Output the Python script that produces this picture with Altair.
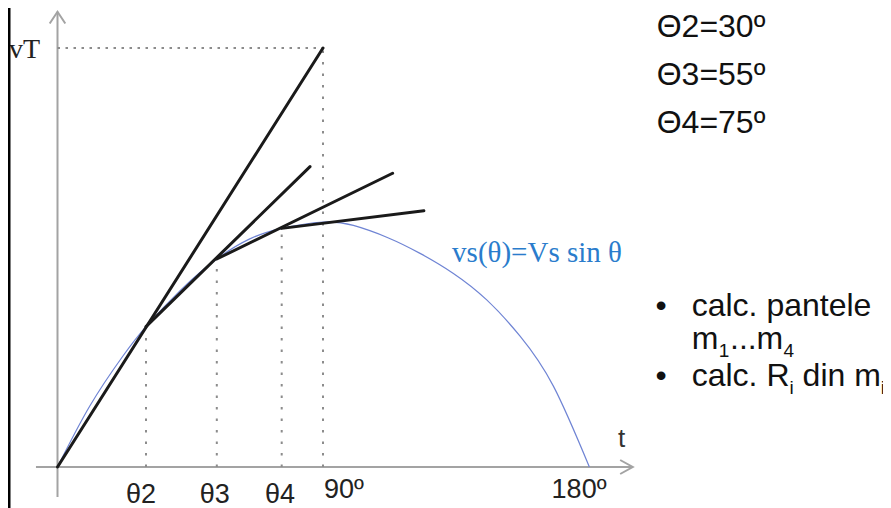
import altair as alt
import pandas as pd

# ---- values (angle in degrees, speed relative to Vs = 1) ----
curve_deg = [0, 11, 22, 30, 42, 54, 65, 76, 90, 100.3, 112, 122.9, 134.2, 145.5, 156.8, 168.1, 180.3]
curve_val = [0, 0.25, 0.45, 0.573, 0.725, 0.849, 0.93, 0.974, 1.0, 0.986, 0.936, 0.872, 0.79, 0.682, 0.534, 0.33, 0]

seg_start_deg = [0, 30, 54, 76]
seg_start_val = [0, 0.573, 0.849, 0.974]
seg_end_deg = [90, 85.6, 113.6, 124.2]
seg_end_val = [1.71, 1.226, 1.199, 1.046]

guide_deg = [30, 54, 76, 90]
guide_val = [0.573, 0.849, 0.974, 1.71]
vT_val = 1.71

theta_labels = ["θ2", "θ3", "θ4"]
theta_label_deg = [28.3, 53.3, 75.4]
deg_labels = ["90º", "180º"]
deg_label_deg = [97.1, 176.8]

angle_lines = ["Θ2=30º", "Θ3=55º", "Θ4=75º"]
formula = "vs(θ)=Vs sin θ"

W, H = 875, 500
X = alt.Scale(domain=[-16.78, 279.83], nice=False, zero=False)
Y = alt.Scale(domain=[(459 - H) / 245, 459 / 245], nice=False, zero=False)

def xq(f):
    return alt.X(f, type="quantitative", scale=X, axis=None)

def yq(f):
    return alt.Y(f, type="quantitative", scale=Y, axis=None)

AX = "#a3a3a3"
DOT = "#8c8c8c"
SANS = "Liberation Sans"
SERIF = "Liberation Serif"

# axes
axes_df = pd.DataFrame({"x1": [-7.3, 0], "x2": [195, 0], "y1": [0, -0.122], "y2": [0, 1.858]})
axes = alt.Chart(axes_df).mark_rule(color=AX, strokeWidth=2).encode(
    x=xq("x1"), x2="x2", y=yq("y1"), y2="y2")

xarrow = alt.Chart(pd.DataFrame({"x": [195], "y": [0]})).mark_point(
    shape="M -1.8 -1 L 0 0 L -1.8 1", size=196, filled=False, color=AX,
    strokeWidth=2, opacity=1).encode(x=xq("x"), y=yq("y"))
yarrow = alt.Chart(pd.DataFrame({"x": [0], "y": [1.858]})).mark_point(
    shape="M -1 1.5 L 0 0 L 1 1.5", size=243, filled=False, color=AX,
    strokeWidth=2, opacity=1).encode(x=xq("x"), y=yq("y"))

# dotted guides
gdf = pd.DataFrame({"deg": guide_deg, "top": guide_val, "zero": [0] * len(guide_deg)})
vguides = alt.Chart(gdf).mark_rule(color=DOT, strokeWidth=2, strokeDash=[2.5, 9]).encode(
    x=xq("deg"), y=yq("zero"), y2="top")
hguide = alt.Chart(pd.DataFrame({"a": [0], "b": [90], "v": [vT_val]})).mark_rule(
    color=DOT, strokeWidth=2, strokeDash=[2.5, 5.5]).encode(x=xq("a"), x2="b", y=yq("v"))

# curve
cdf = pd.DataFrame({"deg": curve_deg, "val": curve_val})
curve = alt.Chart(cdf).mark_line(color="#6f84d4", strokeWidth=1.2, interpolate="natural").encode(
    x=xq("deg"), y=yq("val"))

# black segments
sdf = pd.DataFrame({"x1": seg_start_deg, "y1": seg_start_val, "x2": seg_end_deg, "y2": seg_end_val})
segs = alt.Chart(sdf).mark_rule(color="#1a1a1a", strokeWidth=3, strokeCap="round").encode(
    x=xq("x1"), x2="x2", y=yq("y1"), y2="y2")

# tick-like labels
tdf = pd.DataFrame({"t": theta_labels, "deg": theta_label_deg})
tlabels = alt.Chart(tdf).mark_text(font=SANS, fontSize=27, color="#222222", align="center",
                                   baseline="alphabetic").encode(
    x=xq("deg"), y=alt.value(495), text="t:N")
ddf = pd.DataFrame({"t": deg_labels, "deg": deg_label_deg})
dlabels = alt.Chart(ddf).mark_text(font=SANS, fontSize=27, color="#222222", align="center",
                                   baseline="alphabetic").encode(
    x=xq("deg"), y=alt.value(490), text="t:N")

def txt(s, x, y, size, font=SANS, color="#111111", align="left"):
    return alt.Chart(pd.DataFrame({"t": [s]})).mark_text(
        font=font, fontSize=size, color=color, align=align, baseline="alphabetic").encode(
        x=alt.value(x), y=alt.value(y), text="t:N")

layers = [axes, xarrow, yarrow, vguides, hguide, curve, segs, tlabels, dlabels]

layers.append(txt("vT", 1, 50, 28, font=SERIF, color="#222222"))
layers.append(txt("t", 613.7, 439, 26, color="#333333", align="center"))
layers.append(txt(formula, 529, 254, 29, font=SERIF, color="#2a7ccc", align="center"))

for i, s in enumerate(angle_lines):
    layers.append(txt(s, 648.7, 29 + 48 * i, 32))

# bullets
layers.append(txt("•", 647.4, 308, 32))
layers.append(txt("•", 647.4, 378, 32))
layers.append(txt("calc. pantele", 683.7, 308, 32))
# m1...m4
layers.append(txt("m", 683.7, 341, 32))
layers.append(txt("1", 710.8, 349, 19))
layers.append(txt("...", 722.0, 341, 32))
layers.append(txt("m", 748.5, 341, 32))
layers.append(txt("4", 775.6, 349, 19))
# calc. Ri din mi
layers.append(txt("calc. R", 683.7, 378, 32))
layers.append(txt("i", 781.5, 386, 19))
layers.append(txt("din m", 794.6, 378, 32))
layers.append(txt("i", 872.8, 386, 19))

# left border line
layers.append(alt.Chart(pd.DataFrame({"a": [0]})).mark_rule(color="#000000", strokeWidth=3).encode(
    x=alt.value(1), y=alt.value(0), y2=alt.value(H)))

chart = alt.layer(*layers).properties(
    width=W, height=H, padding=0, autosize=alt.AutoSizeParams(type="none"), background="white"
).configure_view(stroke=None)

chart.save("out.html", embed_options={"renderer": "svg", "actions": False})
